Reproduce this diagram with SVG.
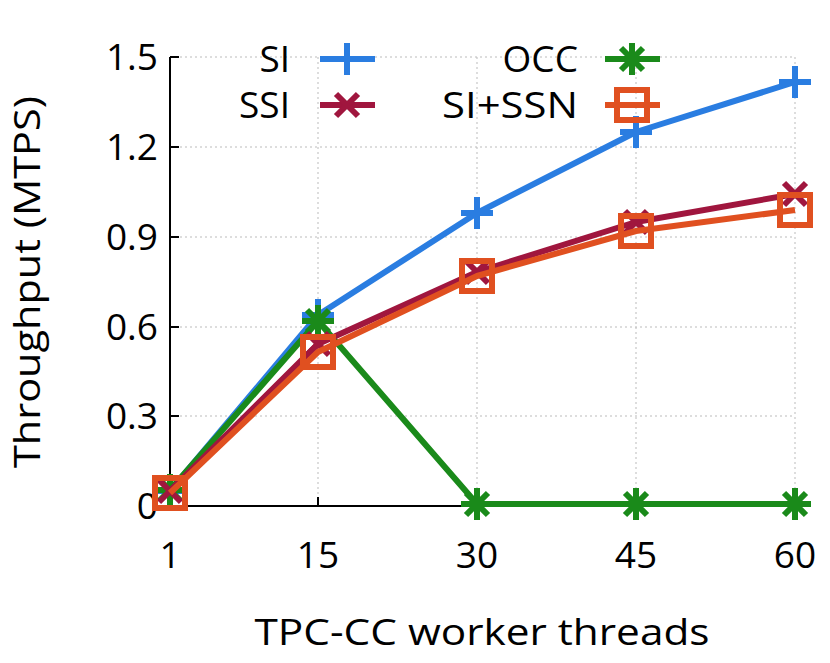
<svg xmlns="http://www.w3.org/2000/svg" width="830" height="663" viewBox="0 0 830 663">
<style>
text{font-family:"Open Sans","Liberation Sans",sans-serif;font-size:37px;fill:#000}
.grid{stroke:#bbb;stroke-width:1;stroke-dasharray:2,3;fill:none}
.ax{stroke:#000;stroke-width:2;fill:none}
.l{fill:none;stroke-width:6;stroke-linejoin:round}
.m{fill:none;stroke-width:6}
</style>
<rect width="830" height="663" fill="#fff"/>
<g id="grid">
<path class="grid" d="M170 416H795M170 327H795M170 237H795M170 147H795M170 57H795M318 57V506M477 57V506M636 57V506M795 57V506"/>
</g>
<g id="axes">
<path class="ax" d="M170 57V506H795"/>
<path class="ax" d="M170 416h9M170 327h9M170 237h9M170 147h9M170 57h9M318 506v-9M477 506v-9M636 506v-9M795 506v-9"/>
<g text-anchor="end">
<text x="158" y="519">0</text><text x="158" y="429">0.3</text><text x="158" y="340">0.6</text><text x="158" y="250">0.9</text><text x="158" y="160">1.2</text><text x="158" y="70">1.5</text>
</g>
<g text-anchor="middle">
<text x="170" y="568">1</text><text x="318" y="568">15</text><text x="477" y="568">30</text><text x="636" y="568">45</text><text x="795" y="568">60</text>
<text x="482" y="645" textLength="455" lengthAdjust="spacingAndGlyphs">TPC-CC worker threads</text>
<text transform="translate(40 282) rotate(-90)" textLength="372" lengthAdjust="spacingAndGlyphs">Throughput (MTPS)</text>
</g>
</g>
<g id="SI">
<polyline class="l" stroke="#2a7de1" points="170,491 318,315 477,213 636,132 795,82"/>
<path class="m" stroke="#2a7de1" d="M154 491h32M170 475v32M302 315h32M318 299v32M461 213h32M477 197v32M620 132h32M636 116v32M779 82h32M795 66v32"/>
</g>
<g id="OCC">
<polyline class="l" stroke="#1a8a1a" points="170,490 318,321 477,504 636,504 795,504"/>
<g stroke="#1a8a1a" class="m">
<path d="M154 490h32M170 474v32M159 479l22 22M159 501l22-22"/>
<path d="M302 321h32M318 305v32M307 310l22 22M307 332l22-22"/>
<path d="M461 504h32M477 488v32M466 493l22 22M466 515l22-22"/>
<path d="M620 504h32M636 488v32M625 493l22 22M625 515l22-22"/>
<path d="M779 504h32M795 488v32M784 493l22 22M784 515l22-22"/>
</g>
</g>
<g id="SSI">
<polyline class="l" stroke="#a0163e" points="170,491 318,344 477,272 636,222 795,194"/>
<path class="m" stroke="#a0163e" d="M159 480l22 22M159 502l22-22M307 333l22 22M307 355l22-22M466 261l22 22M466 283l22-22M625 211l22 22M625 233l22-22M784 183l22 22M784 205l22-22"/>
</g>
<g id="SISSN">
<polyline class="l" stroke="#e05020" points="170,493 318,352 477,276 636,231 795,210"/>
<g class="m" stroke="#e05020">
<rect x="155" y="478" width="30" height="30"/><rect x="303" y="337" width="30" height="30"/><rect x="462" y="261" width="30" height="30"/><rect x="621" y="216" width="30" height="30"/><rect x="780" y="195" width="30" height="30"/>
</g>
</g>
<g id="legend">
<text x="290" y="72" text-anchor="end">SI</text>
<path class="l" stroke="#2a7de1" d="M320 59h55"/><path class="m" stroke="#2a7de1" d="M331 59h32M347 43v32"/>
<text x="290" y="118" text-anchor="end">SSI</text>
<path class="l" stroke="#a0163e" d="M320 105h55"/><path class="m" stroke="#a0163e" d="M336 94l22 22M336 116l22-22"/>
<text x="578" y="72" text-anchor="end">OCC</text>
<path class="l" stroke="#1a8a1a" d="M605 59h55"/><path class="m" stroke="#1a8a1a" d="M616 59h32M632 43v32M621 48l22 22M621 70l22-22"/>
<text x="578" y="118" text-anchor="end" textLength="136" lengthAdjust="spacingAndGlyphs">SI+SSN</text>
<path class="l" stroke="#e05020" d="M605 105h55"/><rect class="m" stroke="#e05020" x="617" y="90" width="30" height="30"/>
</g>
</svg>
